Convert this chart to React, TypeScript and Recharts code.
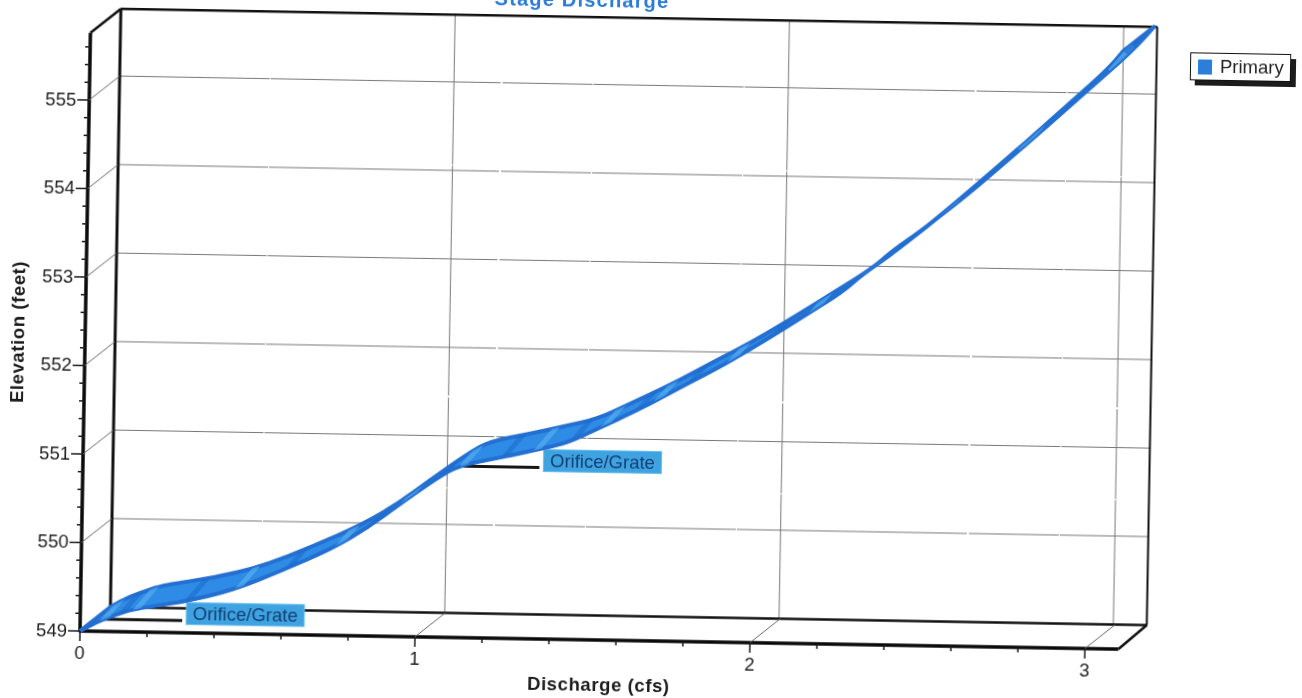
import { ComposedChart, Line, Scatter, XAxis, YAxis, CartesianGrid, ReferenceLine, Legend } from "recharts";

// values (front edge of the ribbon)
const discharge = [0, 0.059, 0.11, 0.157, 0.306, 0.455, 0.603, 0.751, 0.851, 0.949, 1.058, 1.125, 1.244, 1.343, 1.444, 1.541, 1.639, 1.698, 1.793, 1.911, 2.038, 2.156, 2.257, 2.316, 2.404, 2.53, 2.627, 2.775, 2.921, 3.039, 3.084];
const elevation = [549, 549.128, 549.193, 549.259, 549.348, 549.494, 549.729, 549.988, 550.22, 550.5, 550.8, 550.95, 551.04, 551.13, 551.22, 551.4, 551.58, 551.7, 551.9, 552.14, 552.44, 552.73, 552.98, 553.18, 553.42, 553.81, 554.13, 554.63, 555.14, 555.55, 555.76];

const xTicks = [0, 0.2, 0.4, 0.6, 0.8, 1, 1.2, 1.4, 1.6, 1.8, 2, 2.2, 2.4, 2.6, 2.8, 3, 3.1];
const yTicks = [549, 549.2, 549.4, 549.6, 549.8, 550, 550.2, 550.4, 550.6, 550.8, 551, 551.2, 551.4, 551.6, 551.8, 552, 552.2, 552.4, 552.6, 552.8, 553, 553.2, 553.4, 553.6, 553.8, 554, 554.2, 554.4, 554.6, 554.8, 555, 555.2, 555.4, 555.6, 555.76];
const backXTicks = [1, 2, 3];
const backYTicks = [550, 551, 552, 553, 554, 555];

const labelDischarge = [0, 1.058];
const labelElevation = [549, 550.8];
const labelText = "Orifice/Grate";

const curve = discharge.map((x, i) => ({ x, y: elevation[i] }));
const labels = labelDischarge.map((x, i) => ({ x, y: labelElevation[i] }));

const X_MAX = 3.1;
const Y_MIN = 549;
const Y_MAX = 555.76;
const DEPTH_X = 30;
const DEPTH_Y = -24.5;
const FONT = "'Liberation Sans', Arial, sans-serif";
const INK = "#1c1c1c";

const W = 1302;
const H = 738;
const MARGIN_TOP = 72.7;
const BOTTOM = 67;
const LEFT = 80;

function XTick({ x, y, payload }: any) {
    const v = payload.value;
    if (v === X_MAX) {
        return <line x1={x} y1={y} x2={x + DEPTH_X - 2} y2={y + DEPTH_Y} stroke="#111" strokeWidth={2.5} />;
    }
    const major = Number.isInteger(v);
    return (
        <g>
            {major && v > 0 && <line x1={x} y1={y} x2={x + DEPTH_X} y2={y + DEPTH_Y} stroke="#666" strokeWidth={1} />}
            <line x1={x} y1={y} x2={x} y2={y + (major ? 10 : 5)} stroke={INK} strokeWidth={1.5} />
            {major && (
                <text x={x} y={y + 28} textAnchor="middle" fontSize={18.5} fontFamily={FONT} fill={INK}>
                    {v}
                </text>
            )}
        </g>
    );
}

function YTick({ x, y, payload }: any) {
    const v = payload.value;
    if (v === Y_MAX) {
        return <line x1={x} y1={y} x2={x + DEPTH_X} y2={y + DEPTH_Y} stroke="#111" strokeWidth={2.5} />;
    }
    const major = Number.isInteger(v);
    return (
        <g>
            {major && v > Y_MIN && <line x1={x} y1={y} x2={x + DEPTH_X} y2={y + DEPTH_Y} stroke="#666" strokeWidth={1} />}
            <line x1={x - (major ? 12 : 5)} y1={y} x2={x} y2={y} stroke={INK} strokeWidth={1.5} />
            {major && (
                <text x={x - 13} y={y + 6} textAnchor="end" fontSize={18.5} fontFamily={FONT} fill={INK}>
                    {v}
                </text>
            )}
        </g>
    );
}

// smooth path through screen points, midpoints as joins
function smooth(pts: { x: number; y: number }[], start: string) {
    let d = `${start} ${pts[0].x} ${pts[0].y}`;
    for (let i = 1; i < pts.length - 1; i++) {
        const mx = (pts[i].x + pts[i + 1].x) / 2;
        const my = (pts[i].y + pts[i + 1].y) / 2;
        d += ` Q ${pts[i].x} ${pts[i].y} ${mx} ${my}`;
    }
    const last = pts[pts.length - 1];
    return `${d} L ${last.x} ${last.y}`;
}

// the ribbon is the front curve joined to the same curve pushed back by the depth
function Ribbon(props: any) {
    const { index, points } = props;
    if (index !== 0 || !points) return <g key={index} />;
    const back = [...points].reverse().map((p: any) => ({ x: p.x + DEPTH_X, y: p.y + DEPTH_Y }));
    const d = `${smooth(points, "M")} ${smooth(back, "L")} Z`;
    const clipId = "ribbon-clip";
    return (
        <g key="ribbon">
            <clipPath id={clipId}>
                <path d={d} />
            </clipPath>
            <path d={d} fill="#2f8ce6" stroke="#2470d2" strokeWidth={4} strokeLinejoin="round" />
            <g clipPath={`url(#${clipId})`}>
                {points.map((p: any, i: number) => (
                    <line key={i} x1={p.x + 2} y1={p.y + 2} x2={p.x + DEPTH_X - 6} y2={p.y + DEPTH_Y} stroke={i % 2 ? "#5db4f0" : "#1f6ccb"} strokeWidth={5} opacity={0.6} />
                ))}
            </g>
        </g>
    );
}

function OrificeLabel({ cx, cy }: any) {
    const x = cx + DEPTH_X / 2;
    const y = cy + DEPTH_Y / 2;
    return (
        <g>
            <line x1={x} y1={y} x2={x + 87} y2={y} stroke="#161616" strokeWidth={3} />
            <rect x={x + 91} y={y - 18} width={118} height={22} fill="#3fa3e2" stroke="#6cc0ee" />
            <text x={x + 150} y={y - 0.5} textAnchor="middle" fontSize={18.5} fontFamily={FONT} fill="#123f72">
                {labelText}
            </text>
        </g>
    );
}

function LegendBox({ payload }: any) {
    const item = payload.find((p: any) => p.value === "Primary");
    return (
        <div style={{ boxSizing: "border-box", width: 101, height: 28, background: "#fff", border: "1.5px solid #111", boxShadow: "5px 5px 0 #1c1c1c", display: "flex", alignItems: "center", fontFamily: FONT, fontSize: 18.5, color: "#222" }}>
            <span style={{ width: 14, height: 15, background: "#2b7fd9", margin: "0 8px 0 7px" }} />
            {item ? item.value : ""}
        </div>
    );
}

export default function App() {
    return (
        <div style={{ position: "absolute", left: 0, top: 0, width: 1302, height: 698, overflow: "hidden", background: "#fff" }}>
            <div style={{ position: "absolute", left: 0, top: -40, width: W, height: H, transform: "rotate(1deg)", transformOrigin: `${LEFT}px ${H - BOTTOM}px`, filter: "blur(0.4px)" }}>
                {/* back wall */}
                <div style={{ position: "absolute", left: 0, top: 0, transform: `translate(${DEPTH_X}px, ${DEPTH_Y}px)` }}>
                    <ComposedChart width={W} height={H} data={curve} margin={{ top: MARGIN_TOP, right: 185.5, bottom: BOTTOM, left: LEFT }}>
                        <CartesianGrid stroke="#777" strokeWidth={1} strokeDasharray="150 1 230 2 90 1" />
                        <XAxis dataKey="x" type="number" domain={[0, X_MAX]} ticks={backXTicks} hide />
                        <YAxis type="number" domain={[Y_MIN, Y_MAX]} ticks={backYTicks} hide />
                        <Line dataKey="y" stroke="none" dot={false} legendType="none" isAnimationActive={false} />
                        <ReferenceLine x={0} stroke="#111" strokeWidth={3} />
                        <ReferenceLine x={X_MAX} stroke="#111" strokeWidth={2} />
                        <ReferenceLine y={Y_MAX} stroke="#111" strokeWidth={2.5} />
                        <ReferenceLine y={Y_MIN} stroke="#111" strokeWidth={2.5} />
                    </ComposedChart>
                </div>
                {/* front axes, ribbon, labels */}
                <div style={{ position: "absolute", left: 0, top: 0 }}>
                    <ComposedChart width={W} height={H} data={curve} margin={{ top: MARGIN_TOP, right: 82, bottom: 0, left: 0 }}>
                        <XAxis
                            dataKey="x"
                            type="number"
                            domain={[0, X_MAX]}
                            ticks={xTicks}
                            interval={0}
                            height={BOTTOM}
                            tickLine={false}
                            tickSize={0}
                            tickMargin={0}
                            axisLine={{ stroke: "#0a0a0a", strokeWidth: 3.5 }}
                            tick={<XTick />}
                            label={{ value: "Discharge (cfs)", position: "insideBottom", offset: 16, fontSize: 18.5, fontWeight: 700, fontFamily: FONT, fill: INK, letterSpacing: 0.6 }}
                        />
                        <YAxis
                            type="number"
                            domain={[Y_MIN, Y_MAX]}
                            ticks={yTicks}
                            interval={0}
                            width={LEFT}
                            tickLine={false}
                            tickSize={0}
                            tickMargin={0}
                            axisLine={{ stroke: "#0a0a0a", strokeWidth: 3.5 }}
                            tick={<YTick />}
                        />
                        <Legend content={<LegendBox />} layout="vertical" align="right" verticalAlign="top" width={101} height={28} wrapperStyle={{ left: 1180, top: 73, width: 101, height: 28 }} />
                        <Line dataKey="y" name="Primary" type="monotone" stroke="#2470d2" strokeWidth={2} dot={Ribbon} activeDot={false} isAnimationActive={false} />
                        <Scatter data={labels} dataKey="y" name="Orifice/Grate" legendType="none" shape={<OrificeLabel />} isAnimationActive={false} />
                        <text x={571} y={37.8} textAnchor="middle" fontSize={20} fontWeight={700} fontFamily={FONT} fill="#2a7bd6" letterSpacing={1.2}>
                            Stage Discharge
                        </text>
                        <text transform="translate(19,373) rotate(-90)" textAnchor="middle" fontSize={18.5} fontWeight={700} fontFamily={FONT} fill={INK} letterSpacing={0.6}>
                            Elevation (feet)
                        </text>
                    </ComposedChart>
                </div>
            </div>
        </div>
    );
}
